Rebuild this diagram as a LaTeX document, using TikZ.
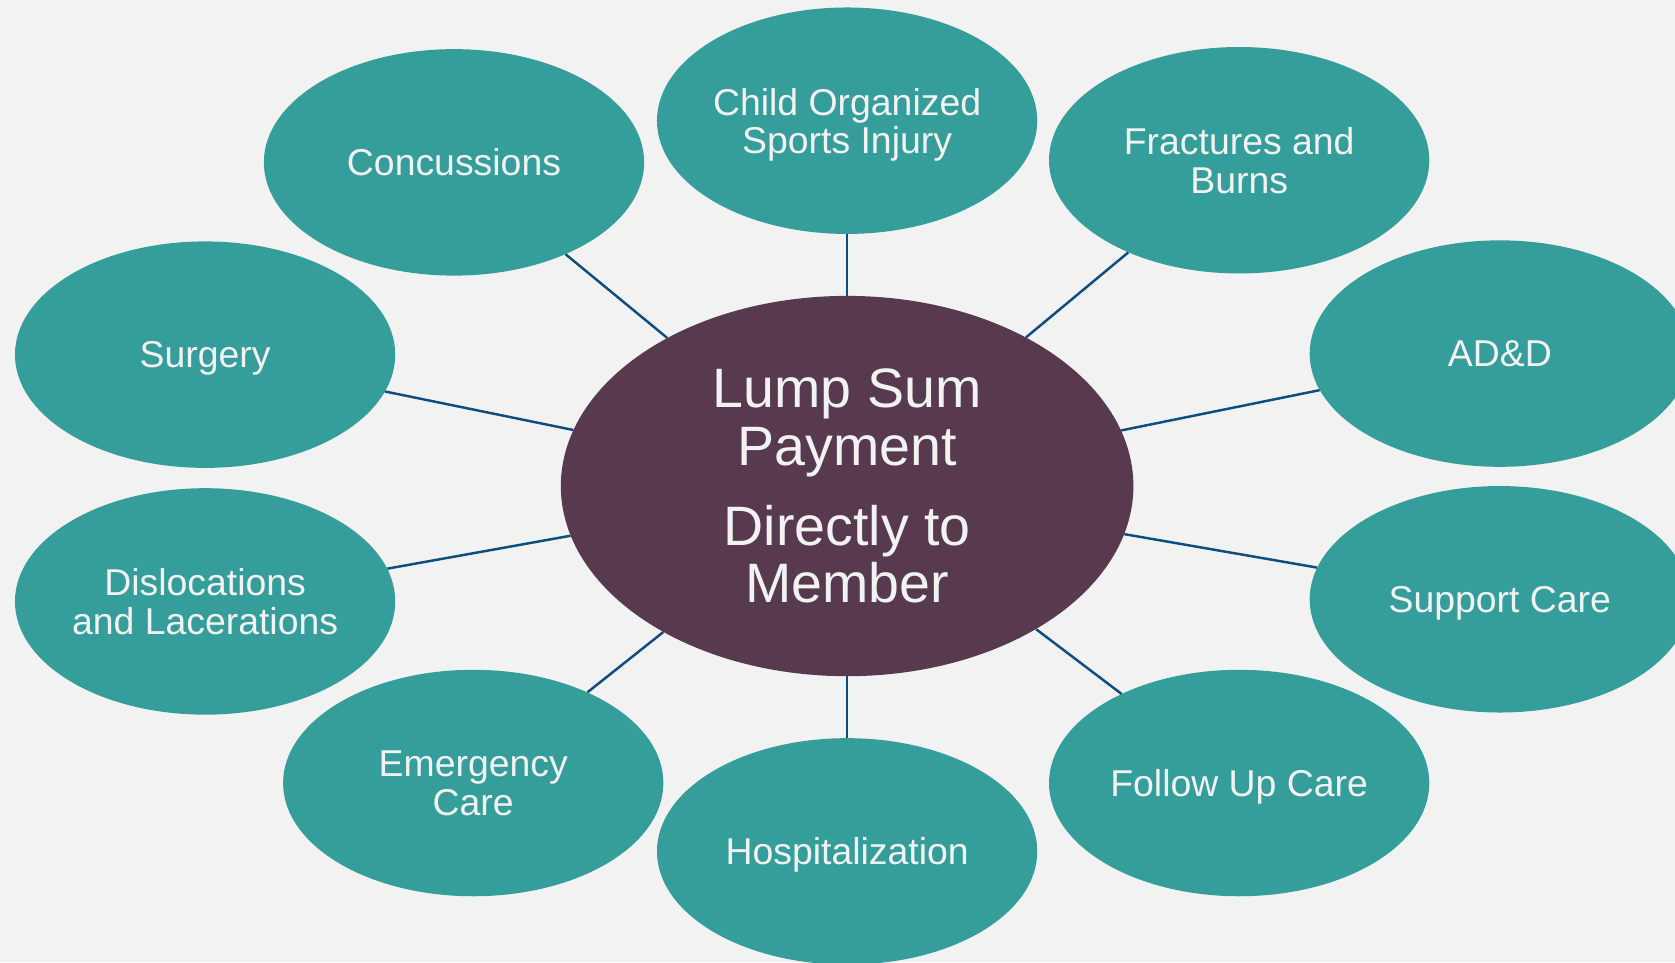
\documentclass[tikz,border=0pt]{standalone}
\usepackage{fontspec}
\setmainfont{Liberation Sans}
\usetikzlibrary{shapes.geometric}
\definecolor{bgc}{HTML}{F2F2F2}
\definecolor{teal1}{HTML}{359E9B}
\definecolor{plum1}{HTML}{573A4D}
\definecolor{line1}{HTML}{0F4C81}
\definecolor{txt1}{HTML}{F2F2F2}
\tikzset{
  leaf/.style={ellipse, fill=teal1, draw=none, inner sep=0pt, minimum width=356pt, minimum height=212pt,
    text=txt1, align=center, text depth=0pt, font=\fontsize{35pt}{36pt}\selectfont},
  hub/.style={ellipse, fill=plum1, draw=none, inner sep=0pt, minimum width=536pt, minimum height=356pt,
    text=txt1, align=center, font=\fontsize{52pt}{54pt}\selectfont},
  link/.style={draw=line1, line width=2.3pt}
}
\begin{document}
\begin{tikzpicture}[x=1pt,y=-1pt]
\useasboundingbox (0,0) rectangle (1568,901);
\fill[bgc] (0,0) rectangle (1568,901);
\node[hub] (c) at (793,455) {Lump Sum\\Payment\\[21pt]Directly to\\Member};
\node[leaf] (conc) at (425,152) {Concussions};
\node[leaf] (child) at (793,113) {Child Organized\\Sports Injury};
\node[leaf] (frac) at (1160,150) {Fractures and\\Burns};
\node[leaf] (surg) at (192,332) {Surgery};
\node[leaf] (add) at (1404,331) {AD\&D};
\node[leaf] (disl) at (192,563) {Dislocations\\and Lacerations};
\node[leaf] (supp) at (1404,561) {Support Care};
\node[leaf] (emer) at (443,733) {Emergency\\Care};
\node[leaf] (hosp) at (793,797) {Hospitalization};
\node[leaf] (foll) at (1160,733) {Follow Up Care};
\foreach \n in {conc,child,frac,surg,add,disl,supp,emer,hosp,foll}
  \draw[link] (c) -- (\n);
\end{tikzpicture}
\end{document}
